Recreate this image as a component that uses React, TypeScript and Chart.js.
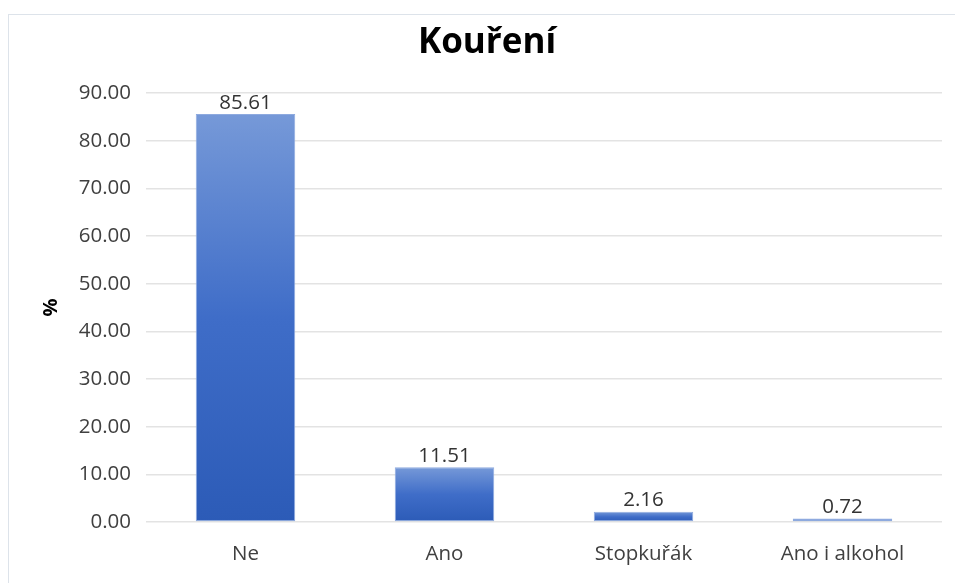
import React, { useEffect, useRef } from "react";
import { Chart, registerables } from "chart.js";

Chart.register(...registerables);

const categories = ["Ne", "Ano", "Stopkuřák", "Ano i alkohol"];
const values = [85.61, 11.51, 2.16, 0.72];
const titleText = "Kouření";
const yAxisTitle = "%";
const yMin = 0;
const yMax = 90;
const yStep = 10;

const FONT = "'Open Sans', 'Noto Sans', sans-serif";

const valueLabels = {
  id: "valueLabels",
  afterDatasetsDraw(chart: any) {
    const ctx = chart.ctx;
    const meta = chart.getDatasetMeta(0);
    ctx.save();
    ctx.font = `20.5px ${FONT}`;
    ctx.fillStyle = "#333333";
    ctx.textAlign = "center";
    ctx.textBaseline = "bottom";
    meta.data.forEach((bar: any, i: number) => {
      ctx.fillText(values[i].toFixed(2), bar.x, bar.y - 1);
    });
    ctx.restore();
  },
};

const chartTitle = {
  id: "chartTitle",
  afterDraw(chart: any) {
    const ctx = chart.ctx;
    ctx.save();
    ctx.font = `bold 35px ${FONT}`;
    ctx.fillStyle = "#000000";
    ctx.textAlign = "center";
    ctx.textBaseline = "middle";
    ctx.fillText(titleText, 478, 28);
    ctx.restore();
  },
};

export default function App() {
  const ref = useRef<HTMLCanvasElement>(null);
  useEffect(() => {
    if (!ref.current) return;
    const chart = new Chart(ref.current, {
      type: "bar",
      data: {
        labels: categories,
        datasets: [
          {
            data: values,
            backgroundColor: (c: any) => {
              const chart = c.chart;
              const y = chart.scales?.y;
              if (!y || c.raw === undefined) return "#3a66c2";
              const top = y.getPixelForValue(c.raw);
              const base = y.getPixelForValue(0);
              if (!isFinite(top) || !isFinite(base) || top === base) return "#3a66c2";
              const g = chart.ctx.createLinearGradient(0, top, 0, base);
              g.addColorStop(0, "#7699d8");
              g.addColorStop(0.5, "#3f6dc8");
              g.addColorStop(1, "#2c5bb7");
              return g;
            },
            borderColor: "#8eaadf",
            borderWidth: 1,
            borderSkipped: false,
            categoryPercentage: 1,
            barPercentage: 0.5,
          },
        ],
      },
      options: {
        animation: false,
        responsive: false,
        maintainAspectRatio: false,
        layout: { padding: { left: 0, right: 13, top: 78, bottom: 0 } },
        plugins: {
          legend: { display: false },
          tooltip: { enabled: false },
          title: { display: false },
        },
        scales: {
          x: {
            grid: { display: false, drawTicks: false },
            border: { display: false },
            ticks: {
              color: "#404040",
              font: { family: FONT, size: 20.5 },
              padding: 20,
              maxRotation: 0,
            },
            afterFit: (s: any) => {
              s.height = 61;
            },
          },
          y: {
            min: yMin,
            max: yMax,
            grid: { color: "#e3e3e3", lineWidth: 1.5, drawTicks: false },
            border: { display: false },
            ticks: {
              stepSize: yStep,
              color: "#404040",
              font: { family: FONT, size: 20.5 },
              padding: 15,
              callback: (v: any) => Number(v).toFixed(2),
            },
            title: {
              display: true,
              text: yAxisTitle,
              color: "#000000",
              font: { family: FONT, size: 20, weight: "bold" },
              padding: { top: 30, bottom: 0 },
            },
            afterFit: (s: any) => {
              s.width = 137;
            },
          },
        },
      },
      plugins: [valueLabels, chartTitle],
    } as any);
    return () => chart.destroy();
  }, []);

  return (
    <div
      style={{
        position: "absolute",
        left: 8,
        top: 14,
        width: 946,
        height: 569,
        borderTop: "1px solid #dde3ea",
        borderLeft: "1px solid #dde3ea",
        background: "#ffffff",
      }}
    >
      <canvas ref={ref} width={946} height={568} style={{ display: "block" }} />
    </div>
  );
}
